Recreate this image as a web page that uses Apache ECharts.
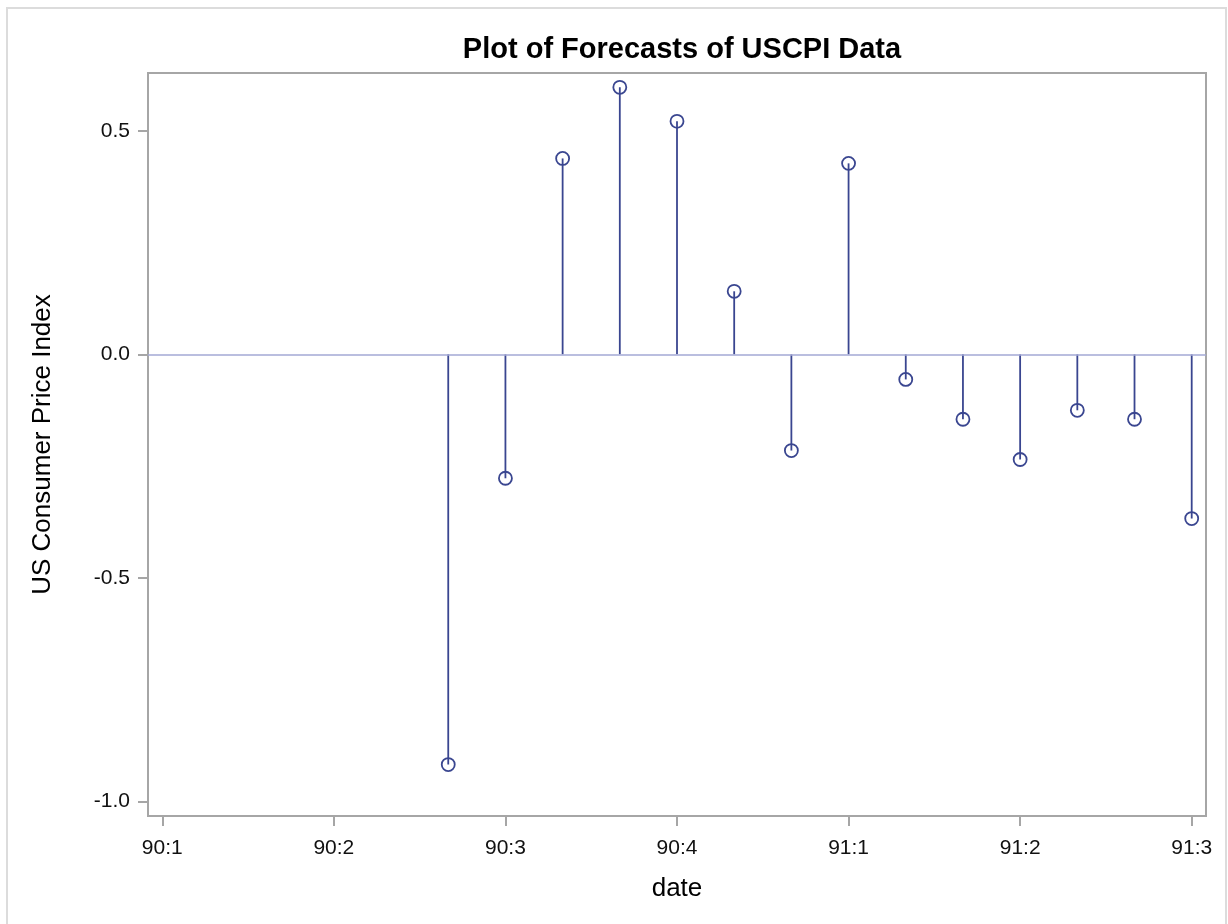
<!DOCTYPE html>
<html>
<head>
<meta charset="utf-8">
<title>Plot of Forecasts of USCPI Data</title>
<script src="https://cdn.jsdelivr.net/npm/echarts@6/dist/echarts.min.js"></script>
<style>
  html, body { margin: 0; padding: 0; background: #ffffff; }
  #chart { width: 1228px; height: 924px; }
</style>
</head>
<body>
<div id="chart"></div>
<script>
// Months counted from January 1990 (0 = 90:1)
const months = [5, 6, 7, 8, 9, 10, 11, 12, 13, 14, 15, 16, 17, 18];
// Forecast values of the US consumer price index
const forecast = [-0.917, -0.277, 0.438, 0.597, 0.521, 0.141, -0.215, 0.427, -0.056, -0.145, -0.235, -0.125, -0.145, -0.367];
// Quarter ticks on the date axis
const quarterTicks = [0, 3, 6, 9, 12, 15, 18];
const quarterLabels = ['90:1', '90:2', '90:3', '90:4', '91:1', '91:2', '91:3'];
// Value ticks on the index axis
const valueTicks = [-1.0, -0.5, 0.0, 0.5];

const FONT = '"Liberation Sans", Arial, sans-serif';
const STEM = '#3a4690';
const FRAME = '#a6a6a6';

const chart = echarts.init(document.getElementById('chart'), null, { renderer: 'canvas' });

const points = months.map((m, i) => [m, forecast[i]]);

chart.setOption({
  backgroundColor: '#ffffff',
  animation: false,
  title: {
    text: 'Plot of Forecasts of USCPI Data',
    left: 677,
    top: 30,
    textAlign: 'center',
    textStyle: { fontFamily: FONT, fontSize: 29, fontWeight: 'bold', color: '#000000' }
  },
  graphic: [{
    type: 'rect',
    shape: { x: 7, y: 8, width: 1219, height: 930 },
    style: { fill: 'none', stroke: '#dcdcdc', lineWidth: 2 },
    silent: true
  }],
  grid: {
    left: 148, top: 73, right: 22, bottom: 108,
    show: true, borderColor: FRAME, borderWidth: 2, backgroundColor: 'transparent'
  },
  xAxis: {
    type: 'value',
    min: -0.25,
    max: 18.25,
    name: 'date',
    nameLocation: 'middle',
    nameGap: 60,
    nameTextStyle: { fontFamily: FONT, fontSize: 26, color: '#000000' },
    splitLine: { show: false },
    axisLine: { show: true, onZero: false, lineStyle: { color: FRAME, width: 2 } },
    axisTick: { show: true, length: 10, customValues: quarterTicks, lineStyle: { color: FRAME, width: 2 } },
    axisLabel: {
      customValues: quarterTicks,
      margin: 22,
      fontFamily: FONT, fontSize: 21, color: '#111111',
      formatter: v => quarterLabels[quarterTicks.indexOf(Math.round(v))] || ''
    }
  },
  yAxis: {
    type: 'value',
    min: -1.032,
    max: 0.629,
    name: 'US Consumer Price Index',
    nameLocation: 'middle',
    nameGap: 92,
    nameRotate: 90,
    nameTextStyle: { fontFamily: FONT, fontSize: 26, color: '#000000' },
    splitLine: { show: false },
    axisLine: { show: true, onZero: false, lineStyle: { color: FRAME, width: 2 } },
    axisTick: { show: true, length: 10, customValues: valueTicks, lineStyle: { color: FRAME, width: 2 } },
    axisLabel: {
      customValues: valueTicks,
      margin: 18,
      fontFamily: FONT, fontSize: 21, color: '#111111',
      formatter: v => v.toFixed(1)
    }
  },
  series: [
    {
      // zero reference line
      type: 'line',
      data: [],
      markLine: {
        silent: true,
        symbol: 'none',
        label: { show: false },
        lineStyle: { color: '#a3a9d4', width: 1.6, type: 'solid' },
        data: [{ yAxis: 0 }]
      }
    },
    {
      // needles from zero to each forecast, with hollow circle at the tip
      type: 'custom',
      data: points,
      renderItem: function (params, api) {
        const x = api.value(0);
        const y = api.value(1);
        const base = api.coord([x, 0]);
        const tip = api.coord([x, y]);
        return {
          type: 'group',
          children: [
            {
              type: 'line',
              shape: { x1: base[0], y1: base[1], x2: tip[0], y2: tip[1] },
              style: { stroke: STEM, lineWidth: 1.8 }
            },
            {
              type: 'circle',
              shape: { cx: tip[0], cy: tip[1], r: 6.5 },
              style: { fill: 'none', stroke: STEM, lineWidth: 1.8 }
            }
          ]
        };
      }
    }
  ]
});
</script>
</body>
</html>
